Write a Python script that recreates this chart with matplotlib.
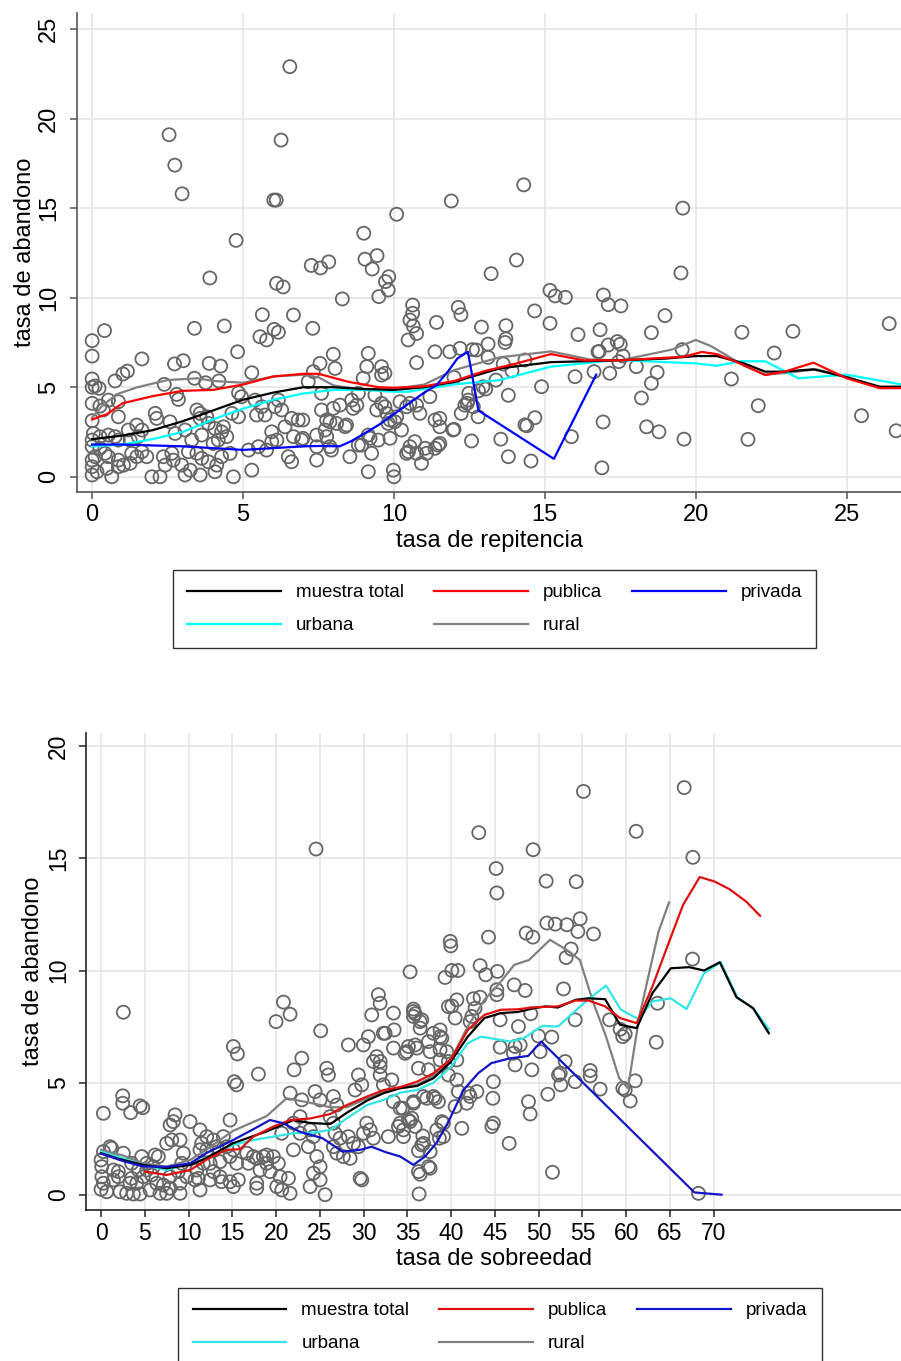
import numpy as np
import matplotlib
matplotlib.use("Agg")
import matplotlib.pyplot as plt
from matplotlib.lines import Line2D

plt.rcParams['font.family'] = ['Liberation Sans', 'DejaVu Sans']

# ---------------- panel 1 : tasa de repitencia ----------------
rep_pts = [
    (2.55, 19.1), (2.74, 17.4), (2.98, 15.8), (6.55, 22.9), (6.26, 18.8), (6.02, 15.45), (6.1, 15.45),
    (4.77, 13.2), (10.09, 14.66), (11.9, 15.4), (9.0, 13.6), (9.04, 12.15), (9.44, 12.35), (9.28, 11.6),
    (7.26, 11.8), (7.57, 11.66), (7.84, 12.0), (9.83, 11.17), (9.72, 10.9), (3.9, 11.1), (6.11, 10.8),
    (6.33, 10.6), (14.3, 16.3), (19.57, 15.0), (19.51, 11.38), (13.22, 11.34), (14.06, 12.1), (12.13, 9.46),
    (12.22, 9.05), (12.9, 8.36), (13.71, 8.44), (14.66, 9.26), (15.17, 10.41), (15.34, 10.1), (15.68, 10.02),
    (15.17, 8.57), (16.1, 7.94), (16.83, 8.21), (16.94, 10.15), (17.1, 9.61), (17.52, 9.54), (18.53, 8.05),
    (18.98, 9.0), (21.53, 8.07), (23.22, 8.12), (26.41, 8.55), (13.71, 7.7), (13.68, 7.5), (13.12, 7.41),
    (12.19, 7.17), (12.6, 7.1), (12.73, 7.08), (16.8, 7.0), (17.1, 7.36), (17.4, 7.55), (17.5, 7.4),
    (19.55, 7.1), (13.12, 6.67), (13.62, 6.3), (14.34, 6.52), (13.91, 5.92), (11.99, 5.55), (13.38, 5.4),
    (13.04, 4.9), (12.8, 4.8), (12.48, 4.66), (12.43, 4.1), (12.35, 4.0), (12.23, 3.54), (12.79, 3.35),
    (11.99, 2.65), (12.57, 2.0), (13.79, 4.55), (13.54, 2.1), (13.79, 1.12), (14.54, 0.88), (14.34, 2.9),
    (14.4, 2.85), (14.67, 3.3), (14.89, 5.03), (15.88, 2.24), (16.0, 5.59), (16.63, 5.87), (16.76, 6.98),
    (17.15, 5.78), (16.93, 3.06), (16.89, 0.5), (17.59, 6.74), (17.45, 6.43), (18.03, 6.15), (18.2, 4.4),
    (18.53, 5.22), (18.72, 5.83), (18.37, 2.79), (18.78, 2.51), (19.61, 2.1), (21.18, 5.46), (21.73, 2.09),
    (22.07, 3.97), (22.6, 6.91), (25.49, 3.41), (26.64, 2.57),
    (9.5, 10.06), (8.29, 9.93), (9.81, 10.43), (10.62, 9.59), (10.62, 9.13), (10.53, 8.75), (10.64, 8.42),
    (10.75, 8.0), (10.47, 7.64), (11.41, 8.62), (7.31, 8.29), (11.36, 6.98), (11.85, 6.98),
    (9.15, 6.89), (9.1, 6.15), (9.59, 6.15), (9.7, 5.78), (9.59, 5.68), (8.98, 5.5), (10.75, 6.37), (9.37, 4.56),
    (7.99, 6.84), (7.55, 6.33), (8.05, 6.05), (7.33, 5.87), (7.6, 4.66), (7.6, 3.73), (7.99, 3.82), (8.21, 4.0),
    (8.6, 4.28), (8.77, 4.0), (8.65, 3.82), (7.77, 3.17), (7.88, 3.07), (8.1, 2.98), (8.38, 2.8), (8.43, 2.89),
    (7.72, 2.61), (7.44, 2.33), (7.77, 2.24), (6.98, 2.15), (7.88, 1.68), (7.93, 1.49), (7.44, 0.93),
    (6.98, 3.17), (8.54, 1.12), (8.82, 1.77), (8.93, 1.77), (9.15, 2.33), (9.21, 2.15), (9.48, 2.05),
    (9.26, 1.31), (9.15, 0.28), (9.87, 2.15), (9.98, 0.37), (10.0, 0.0),
    (9.43, 3.73), (9.59, 4.1), (9.7, 3.91), (9.76, 3.54), (9.87, 3.17), (9.81, 2.98), (10.03, 3.07),
    (10.09, 3.35), (10.2, 4.19), (10.25, 2.61), (10.42, 3.91), (10.53, 4.1), (10.75, 4.0), (10.86, 3.54),
    (11.19, 4.47), (8.82, 4.66), (11.36, 3.17), (11.52, 3.26), (11.52, 2.79), (11.96, 2.61), (11.47, 1.77),
    (11.52, 1.86), (11.36, 1.59), (10.53, 1.68), (10.69, 1.96), (10.48, 1.4), (10.42, 1.31), (10.75, 1.31),
    (10.91, 0.75), (11.03, 1.59), (11.08, 1.31), (12.46, 4.28), (12.63, 3.91), (12.95, 5.03),
    (0.0, 7.6), (0.41, 8.16), (0.0, 6.74), (0.0, 5.46), (0.0, 5.0), (0.1, 5.07), (0.23, 4.94), (0.0, 4.1),
    (0.26, 3.95), (0.54, 4.28), (0.37, 3.73), (0.0, 3.13), (0.87, 4.19), (0.87, 3.35), (0.76, 5.35),
    (1.02, 5.74), (1.17, 5.9), (1.65, 6.58), (2.39, 5.16), (2.73, 6.3), (3.02, 6.48), (2.8, 4.6), (2.86, 4.32),
    (3.39, 8.29), (3.39, 5.5), (3.76, 5.25), (3.88, 6.33), (4.26, 6.18), (4.38, 8.42), (4.2, 5.35),
    (4.82, 6.98), (5.29, 5.81), (4.85, 4.69), (4.95, 4.47), (5.56, 7.82), (5.78, 7.64), (6.03, 8.23),
    (6.17, 8.07), (5.64, 9.05), (6.67, 9.03), (7.16, 5.31),
    (2.09, 3.54), (2.14, 3.26), (2.58, 3.07), (2.75, 2.42), (3.08, 2.61), (3.47, 3.73), (3.58, 3.54),
    (3.58, 3.26), (3.8, 3.35), (3.85, 2.98), (4.07, 2.7), (4.29, 2.51), (4.35, 2.79), (3.63, 2.33),
    (4.46, 2.24), (4.18, 2.05), (4.01, 1.86), (3.3, 2.05),
    (1.2, 2.61), (1.48, 2.89), (1.65, 2.61), (1.53, 2.24), (1.26, 2.05), (0.87, 2.05), (0.76, 2.24),
    (0.54, 2.33), (0.26, 2.24), (0.04, 2.42), (0.0, 2.05), (0.0, 1.68), (0.26, 1.59), (0.43, 1.31),
    (0.54, 1.12), (0.1, 1.12), (0.0, 0.93), (0.0, 0.56), (0.0, 0.1), (0.16, 0.28), (0.49, 0.47), (0.65, 0.0),
    (0.87, 0.56), (0.87, 0.93), (1.04, 0.65), (1.26, 0.75), (1.31, 1.31), (1.48, 1.12), (1.65, 1.4),
    (1.81, 1.12), (1.98, 0.0), (2.25, 0.0), (2.36, 1.12), (2.42, 0.65), (2.64, 1.31), (2.69, 0.93),
    (2.97, 0.65), (3.08, 0.1), (3.25, 0.37), (3.58, 0.1), (3.47, 1.31), (3.19, 1.4), (3.63, 1.03),
    (3.85, 0.84), (4.13, 0.65), (4.07, 0.28), (4.29, 1.12), (4.57, 1.31), (4.68, 0.0), (5.29, 0.37),
    (5.18, 1.49), (5.51, 1.68), (5.78, 1.49), (5.95, 1.96), (6.12, 2.05), (6.39, 2.79), (6.61, 3.26),
    (6.83, 3.17), (6.67, 2.24), (6.94, 2.05), (7.44, 1.68), (6.61, 0.84), (6.5, 1.12), (5.95, 2.51),
    (5.73, 3.45), (5.45, 3.45), (4.63, 3.54), (4.85, 3.35), (5.4, 4.28), (5.62, 3.91), (6.06, 3.91),
    (6.28, 3.73), (6.17, 4.28),
]
rep_x = [p[0] for p in rep_pts]
rep_y = [p[1] for p in rep_pts]

rep_total_x = [0, 1, 2, 3, 4, 5, 6, 7, 8, 9, 10, 11, 12, 13.5, 15.2, 17.4, 19, 20, 20.7, 21.6, 22.3, 22.9,
               23.9, 24.9, 26.1, 26.8]
rep_total_y = [2.1, 2.3, 2.6, 3.1, 3.7, 4.3, 4.7, 5.0, 5.0, 4.9, 4.85, 5.0, 5.3, 6.05, 6.4, 6.5, 6.6, 6.74,
               6.74, 6.33, 5.87, 5.87, 6.0, 5.6, 5.03, 5.03]

rep_pub_x = [0, 0.5, 1, 2, 3, 4, 5, 6, 7, 7.5, 8.5, 9.5, 10, 11, 12, 13, 14, 15.2, 16.3, 17.5, 18.5, 19.6,
             20.2, 20.7, 21.5, 22.3, 23, 23.9, 25, 26.1, 26.8]
rep_pub_y = [3.2, 3.5, 4.1, 4.5, 4.8, 4.85, 5.15, 5.6, 5.75, 5.75, 5.3, 5.0, 4.97, 5.05, 5.35, 5.9, 6.3,
             6.85, 6.5, 6.5, 6.6, 6.7, 6.97, 6.85, 6.3, 5.68, 5.9, 6.37, 5.5, 4.95, 4.95]

rep_priv_x = [0, 1, 2, 3, 4, 5, 6, 7, 7.5, 8.2, 8.6, 9, 9.5, 10, 10.5, 11, 11.4, 11.8, 12.1, 12.45, 12.8,
              15.3, 16.7]
rep_priv_y = [1.8, 1.8, 1.75, 1.7, 1.6, 1.5, 1.6, 1.7, 1.72, 1.7, 2.0, 2.4, 2.9, 3.5, 4.1, 4.7, 5.1, 5.9,
              6.6, 6.98, 3.7, 1.0, 5.7]

rep_urb_x = [0, 1, 2, 3, 4, 5, 6, 7, 8, 9, 10, 10.5, 11, 12, 13.5, 15.2, 17.4, 20, 20.7, 21.5, 22.3, 23.4,
             25, 26, 26.8]
rep_urb_y = [1.7, 1.8, 2.1, 2.5, 3.2, 3.8, 4.3, 4.65, 4.85, 4.85, 4.75, 4.75, 4.9, 5.16, 5.4, 6.15, 6.52,
             6.33, 6.2, 6.45, 6.45, 5.5, 5.7, 5.4, 5.16]

rep_rur_x = [0, 0.3, 0.8, 1.5, 2.5, 3.5, 4, 5, 6, 7, 7.5, 8, 9, 10, 11, 12, 13.5, 15.2, 16.5, 17.5, 19.2,
             20, 20.5, 21.6, 22.3, 23, 24, 25, 26, 26.8]
rep_rur_y = [3.3, 3.9, 4.6, 5.0, 5.4, 5.5, 5.35, 5.25, 5.6, 5.7, 5.55, 5.1, 4.85, 4.9, 5.15, 5.96, 6.67,
             7.0, 6.55, 6.5, 7.1, 7.64, 7.3, 6.2, 5.7, 5.8, 6.0, 5.6, 5.0, 5.0]

# ---------------- panel 2 : tasa de sobreedad ----------------
sob_pts = [
    (55.12, 17.99), (66.63, 18.16), (43.16, 16.15), (61.14, 16.21), (67.62, 15.05), (49.37, 15.39),
    (45.14, 14.55), (45.22, 13.46), (50.86, 13.99), (54.29, 13.96), (50.94, 12.12), (51.89, 12.07),
    (53.22, 12.04), (54.48, 11.74), (54.74, 12.31), (56.27, 11.63), (48.57, 11.67), (49.34, 11.49),
    (44.27, 11.49), (39.9, 11.3), (39.96, 11.1), (53.71, 10.96), (53.14, 10.58), (67.58, 10.51),
    (35.31, 9.94), (39.31, 9.69), (40.08, 10.0), (40.77, 10.0), (43.31, 10.22), (43.96, 9.81),
    (45.29, 9.96), (45.22, 9.14), (45.22, 8.92), (47.2, 9.36), (48.46, 9.11), (52.84, 9.18),
    (40.65, 8.69), (40.08, 8.42), (40.46, 7.88), (42.55, 8.74), (43.31, 8.81), (42.74, 8.32),
    (42.37, 7.95), (42.17, 7.72), (35.7, 8.28), (35.89, 8.07), (36.65, 7.8), (36.46, 7.43),
    (35.12, 6.61), (35.89, 6.68), (34.94, 6.38), (38.74, 7.35), (38.94, 6.98), (37.6, 6.38),
    (37.41, 6.83), (38.74, 6.01), (36.27, 5.64), (37.41, 5.57), (45.6, 7.8), (47.69, 7.5), (49.1, 8.07),
    (49.98, 7.08), (51.5, 7.03), (50.17, 6.38), (54.17, 7.8), (58.1, 7.8), (59.31, 7.38), (59.6, 7.05),
    (59.89, 7.17), (45.6, 6.58), (47.31, 6.61), (47.89, 6.68), (47.12, 6.31), (47.31, 5.79),
    (49.22, 5.57), (53.03, 5.94), (52.46, 5.42), (52.27, 5.34), (52.53, 4.9), (54.17, 5.04),
    (55.89, 5.54), (55.89, 5.3), (57.03, 4.71), (59.62, 4.75), (59.89, 4.67), (61.03, 5.08),
    (60.46, 4.18), (51.05, 4.48), (63.43, 6.8), (63.58, 8.54), (39.69, 5.94), (40.65, 6.01),
    (39.69, 5.34), (40.65, 5.12), (40.83, 4.6), (41.79, 4.08), (41.98, 4.53), (42.94, 4.6),
    (44.83, 5.04), (44.77, 4.3), (44.83, 3.19), (44.65, 3.04), (41.22, 2.96), (40.46, 3.93),
    (42.17, 4.38), (48.84, 4.15), (49.03, 3.6), (46.63, 2.29), (51.58, 1.0), (68.26, 0.06),
    (36.34, 0.03), (36.46, 0.91), (36.77, 2.62), (36.65, 2.22), (36.27, 1.96), (37.41, 1.25),
    (37.6, 1.18), (38.66, 2.52), (38.94, 3.26), (34.48, 3.86), (34.55, 2.89), (35.12, 3.33),
    (35.5, 3.41), (34.17, 3.19), (37.22, 4.3), (37.98, 4.38), (38.17, 4.3), (38.55, 4.15),
    (36.84, 4.38), (35.7, 4.15), (24.57, 15.42),
    (2.55, 8.14), (0.27, 3.63), (2.48, 4.41), (2.48, 4.08), (3.39, 3.66), (4.46, 3.96), (4.77, 3.88),
    (1.03, 2.14), (0.27, 1.92), (1.22, 2.07), (2.55, 1.85), (1.41, 1.1), (1.98, 1.03), (0.0, 1.55),
    (0.08, 1.25), (0.1, 0.8), (0.0, 0.24), (0.65, 0.13), (0.27, 0.51), (1.41, 0.66), (1.98, 0.8),
    (2.17, 0.13), (2.93, 0.06), (3.7, 0.03), (4.46, 0.03), (3.31, 0.51), (3.5, 0.73), (4.08, 0.51),
    (4.83, 0.8), (4.26, 1.1), (3.5, 1.4), (4.65, 1.7), (5.22, 1.1), (5.79, 0.88), (6.36, 0.51),
    (6.74, 0.06), (7.5, 0.06), (5.6, 0.21), (6.17, 1.77), (6.55, 1.7), (7.5, 2.29), (8.08, 2.44),
    (8.26, 3.26), (7.89, 3.11), (8.46, 3.56), (5.22, 1.4), (5.98, 1.25), (9.03, 2.44), (9.41, 1.85),
    (9.22, 1.4), (8.83, 1.03), (7.89, 0.8), (9.03, 0.51), (9.79, 0.8), (10.74, 0.66), (10.93, 1.1),
    (10.17, 3.26), (11.31, 2.89), (11.5, 2.29), (11.31, 2.0), (12.08, 2.0), (11.69, 1.4), (11.31, 0.21),
    (9.03, 0.06), (7.89, 0.29), (7.12, 0.43), (11.12, 0.73), (12.08, 2.59), (12.84, 2.44), (13.22, 2.14),
    (12.46, 1.4), (13.6, 1.47), (12.84, 1.03), (13.6, 0.8), (12.46, 0.66), (13.98, 2.59), (14.74, 1.7),
    (15.12, 2.0), (14.36, 2.14), (15.5, 1.4), (15.12, 0.36), (15.69, 0.66), (14.74, 3.33), (15.12, 6.61),
    (15.58, 6.28), (15.23, 5.04), (15.5, 4.9), (14.74, 0.58), (13.79, 0.58), (16.65, 1.85), (17.41, 1.7),
    (16.84, 1.4), (17.79, 1.62), (18.55, 1.7), (18.93, 1.77), (18.93, 1.4), (17.79, 0.51), (17.79, 0.29),
    (18.17, 1.1), (19.31, 1.03), (19.69, 1.7), (20.26, 1.4), (20.46, 0.8), (20.08, 0.36), (20.65, 0.21),
    (21.6, 0.06), (21.41, 0.73), (21.98, 2.0), (20.65, 2.74), (21.98, 3.19), (22.74, 2.74), (17.98, 5.38),
    (20.0, 7.72), (20.84, 8.59), (21.6, 8.05), (22.06, 5.57), (22.94, 6.09), (21.6, 4.53), (22.94, 4.23),
    (24.46, 4.6), (25.03, 4.23), (25.03, 0.66), (23.89, 0.36), (25.6, 0.0), (22.74, 3.48), (23.89, 2.89),
    (24.26, 2.59), (23.69, 2.14), (24.65, 1.7), (25.03, 1.25), (24.26, 0.96), (25.1, 7.31), (25.79, 5.64),
    (25.98, 5.34), (26.55, 4.38), (26.94, 4.0), (26.17, 3.48), (26.55, 3.19), (26.74, 2.74), (27.31, 2.52),
    (26.55, 2.14), (26.94, 1.85), (27.69, 1.7), (28.46, 1.62), (28.26, 2.59), (28.84, 2.29), (29.41, 2.14),
    (29.98, 2.74), (30.36, 3.19), (30.74, 2.89), (31.12, 2.52), (29.6, 0.73), (29.79, 0.66), (28.26, 6.68),
    (29.98, 6.68), (30.55, 7.05), (30.93, 8.02), (31.69, 8.92), (31.89, 8.54), (32.26, 7.2), (32.46, 7.2),
    (33.41, 8.1), (33.49, 7.35), (33.41, 6.54), (31.5, 6.16), (31.12, 5.94), (31.89, 5.94), (31.89, 5.71),
    (29.41, 5.34), (29.79, 4.9), (29.03, 4.67), (31.89, 5.34), (32.26, 4.9), (33.22, 5.12), (33.41, 4.15),
    (34.17, 3.86), (33.98, 3.04), (32.83, 2.59), (35.31, 3.26), (34.55, 2.59), (35.7, 4.08), (36.08, 6.54),
    (34.74, 6.31), (35.7, 8.17), (35.7, 7.95), (36.46, 7.72), (37.98, 7.2), (38.74, 7.05), (38.74, 6.46),
    (39.5, 6.38), (39.69, 8.39), (39.12, 3.19), (35.89, 3.04), (36.84, 2.29), (37.6, 1.92), (36.27, 1.03),
    (38.36, 2.89), (39.12, 2.59),
]
sob_x = [p[0] for p in sob_pts]
sob_y = [p[1] for p in sob_pts]

sob_total_x = [0, 2, 4.8, 7.5, 10.2, 12, 15.1, 18.9, 22, 23.9, 26.2, 28.1, 30.4, 32.3, 34.2, 36.1, 38, 39.9,
               41.9, 43.8, 45.7, 47.6, 49.5, 50.8, 52.2, 54.2, 55.7, 57.6, 59.3, 61.2, 63, 65.1, 67.2, 68.9,
               70.7, 72.6, 74.5, 76.3]
sob_total_y = [1.85, 1.6, 1.33, 1.18, 1.33, 1.62, 2.3, 2.82, 3.33, 3.2, 3.15, 3.66, 4.2, 4.53, 4.75, 4.85,
               5.2, 5.9, 7.05, 7.88, 8.1, 8.15, 8.32, 8.4, 8.35, 8.69, 8.76, 8.72, 7.58, 7.43, 8.99, 10.1,
               10.15, 10.0, 10.37, 8.81, 8.32, 7.2]

sob_pub_x = [5, 7.5, 10.2, 12, 14.3, 15.9, 17.4, 19.7, 21.6, 23.9, 26.2, 28.1, 30.4, 32.3, 34.2, 36.1, 38,
             40, 41.9, 43.8, 45.7, 47.6, 49.5, 52.2, 54.2, 55.7, 57.6, 59.3, 61.2, 63, 64.7, 66.5, 68.4,
             70.1, 71.8, 73.7, 75.3]
sob_pub_y = [1.03, 0.88, 1.1, 1.55, 2.0, 2.03, 2.59, 3.04, 3.33, 3.4, 3.6, 4.0, 4.38, 4.67, 4.8, 5.04,
             5.42, 6.05, 7.35, 8.02, 8.25, 8.27, 8.36, 8.4, 8.66, 8.66, 8.4, 7.88, 7.65, 9.29, 11.07, 12.93,
             14.17, 13.97, 13.63, 13.08, 12.44]

sob_priv_x = [0, 2.5, 4.8, 7.5, 10.2, 12, 15.1, 17.4, 19.3, 20.8, 22.7, 25.3, 27.6, 29.6, 30.9, 32.5, 34.2,
              35.7, 37, 38.3, 39.7, 41.4, 43.1, 44.6, 46.7, 48.8, 50.3, 67.8, 70.9]
sob_priv_y = [1.83, 1.5, 1.26, 1.24, 1.4, 1.85, 2.44, 2.92, 3.33, 3.19, 2.81, 2.52, 1.92, 2.0, 2.14, 1.9,
              1.7, 1.33, 1.7, 2.29, 3.26, 4.67, 5.42, 5.87, 6.08, 6.19, 6.83, 0.1, 0.0]

sob_urb_x = [0, 2.55, 4.8, 7.5, 10.2, 12, 15.1, 17.4, 19.7, 22, 24.3, 26.2, 28.1, 30.4, 32.3, 34.2, 36.1,
             38, 40, 41.9, 43.4, 45.7, 46.8, 48.3, 50.4, 52.2, 54.1, 55.6, 57.7, 59.4, 61.4, 63, 65.1, 66.9,
             68.9, 70.8, 72.7, 74.5, 76.3]
sob_urb_y = [1.92, 1.62, 1.33, 1.1, 1.4, 1.62, 2.22, 2.44, 2.59, 2.74, 2.77, 2.89, 3.41, 4.0, 4.23, 4.55,
             4.67, 5.0, 5.71, 6.76, 7.05, 6.9, 6.83, 6.98, 7.53, 7.5, 8.17, 8.69, 9.33, 8.25, 7.83, 8.62,
             8.76, 8.28, 9.88, 10.37, 8.8, 8.32, 7.38]

sob_rur_x = [0, 2.5, 4.8, 7.5, 10.2, 12, 15.1, 18.9, 21.2, 23.9, 26.2, 28.1, 30.4, 32.3, 34.2, 36.1, 38,
             40, 41.9, 43.8, 45.7, 47.2, 48.9, 51.3, 53.2, 54.7, 56.2, 57.7, 59.2, 60.2, 61.5, 63.7, 64.9]
sob_rur_y = [2.0, 1.75, 1.4, 1.25, 1.55, 2.0, 2.85, 3.5, 4.3, 4.1, 3.9, 3.9, 4.3, 4.6, 4.8, 4.9, 5.3,
             6.05, 7.5, 8.69, 9.51, 10.25, 10.47, 11.37, 10.92, 10.48, 8.62, 7.05, 5.2, 4.75, 7.95, 11.74,
             13.04]

labels = ["muestra total", "urbana", "publica", "rural", "privada"]


def draw_panel(ax, xs, ys, series, spine_col, tick_fs):
    ax.scatter(xs, ys, s=88, facecolors='none', edgecolors='#666666', linewidths=1.3, zorder=2)
    for sx, sy, col in series:
        ax.plot(sx, sy, color=col, lw=1.6, zorder=3)
    ax.grid(True, color='#e6e6e6', lw=1.2)
    ax.set_axisbelow(True)
    for s in ['top', 'right']:
        ax.spines[s].set_visible(False)
    for s in ['left', 'bottom']:
        ax.spines[s].set_color(spine_col)
        ax.spines[s].set_linewidth(1.2)
    ax.tick_params(direction='out', length=5, width=1.1, color=spine_col, labelsize=tick_fs)
    ax.tick_params(axis='y', labelrotation=90, pad=7)


fig = plt.figure(figsize=(9.01, 13.61), dpi=100)

# top panel
ax1 = fig.add_axes([0.0855, 0.6385, 0.9145, 0.352])
draw_panel(ax1, rep_x, rep_y,
           [(rep_rur_x, rep_rur_y, '#808080'), (rep_urb_x, rep_urb_y, '#00ffff'),
            (rep_total_x, rep_total_y, '#000000'), (rep_pub_x, rep_pub_y, '#ff0000'),
            (rep_priv_x, rep_priv_y, '#0000ff')],
           '#555555', 17)
ax1.set_xlim(-0.5, 26.8)
ax1.set_ylim(-0.85, 25.9)
ax1.set_xticks([0, 5, 10, 15, 20, 25])
ax1.set_yticks([0, 5, 10, 15, 20, 25])
for lab in ax1.get_yticklabels():
    lab.set_va('center')
ax1.set_xlabel("tasa de repitencia", fontsize=17, labelpad=3)
ax1.set_ylabel("tasa de abandono", fontsize=17, labelpad=2)

# bottom panel
ax2 = fig.add_axes([0.096, 0.111, 0.904, 0.3505])
draw_panel(ax2, sob_x, sob_y,
           [(sob_rur_x, sob_rur_y, '#808080'), (sob_urb_x, sob_urb_y, '#33e6e6'),
            (sob_total_x, sob_total_y, '#000000'), (sob_pub_x, sob_pub_y, '#e01010'),
            (sob_priv_x, sob_priv_y, '#1414c8')],
           '#222222', 16.5)
ax2.set_xlim(-1.66, 91.4)
ax2.set_ylim(-0.68, 20.6)
ax2.set_xticks(np.arange(0, 71, 5))
ax2.set_yticks([0, 5, 10, 15, 20])
for lab in ax2.get_yticklabels():
    lab.set_va('center')
ax2.set_xlabel("tasa de sobreedad", fontsize=17, labelpad=2)
ax2.set_ylabel("tasa de abandono", fontsize=17, labelpad=2)


# legends
def add_legend(cols, anchor):
    handles = [Line2D([], [], color=c, lw=1.6) for c in cols]
    leg = fig.legend(handles, labels, ncol=3, loc='upper center', bbox_to_anchor=anchor,
                     frameon=True, fancybox=False, edgecolor='black', fontsize=13.5,
                     handlelength=5, handletextpad=0.8, columnspacing=1.6, labelspacing=0.85,
                     borderpad=0.75, borderaxespad=0)
    leg.get_frame().set_linewidth(1.0)
    return leg


add_legend(['#000000', '#00ffff', '#ff0000', '#808080', '#0000ff'], (0.549, 0.5812))
add_legend(['#000000', '#33e6e6', '#e01010', '#808080', '#1414c8'], (0.555, 0.0536))

fig.savefig("out.png", dpi=100)
